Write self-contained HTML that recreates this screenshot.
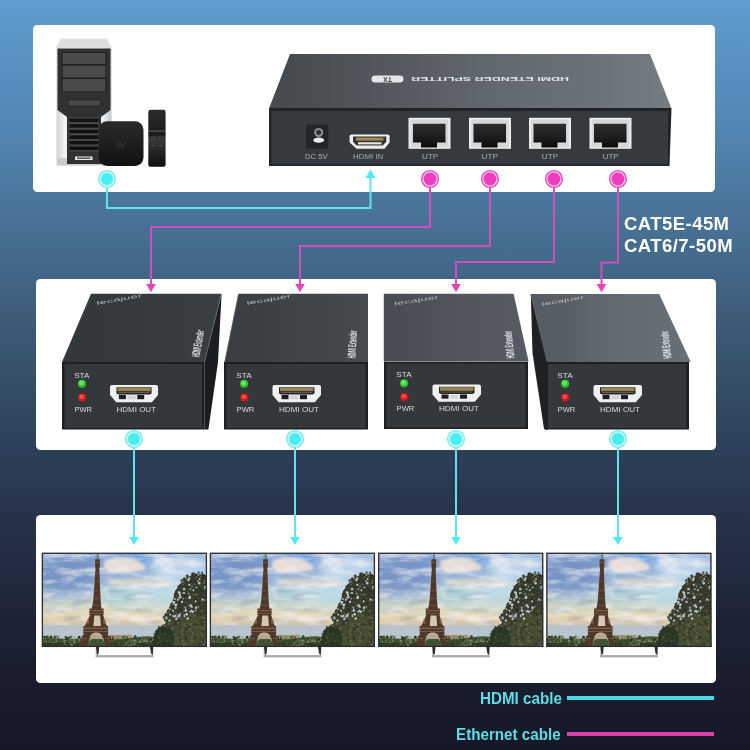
<!DOCTYPE html>
<html><head><meta charset="utf-8">
<style>
html,body{margin:0;padding:0;}
body{width:750px;height:750px;overflow:hidden;position:relative;font-family:"Liberation Sans",sans-serif;
background:linear-gradient(180deg,#5e9ccf 0px,#568bba 100px,#4a779c 200px,#37506b 370px,#27364d 500px,#1d2335 620px,#151826 745px);}
.panel{position:absolute;background:#fff;border-radius:4.5px;}
#p1{left:33px;top:25px;width:682px;height:167px;}
#p2{left:36px;top:279px;width:680px;height:171px;}
#p3{left:36px;top:515px;width:680px;height:167.5px;}
svg{position:absolute;left:0;top:0;will-change:transform;}
.txt{will-change:transform;}
.txt{position:absolute;font-weight:bold;white-space:nowrap;}
</style></head>
<body>
<div class="panel" id="p1"></div>
<div class="panel" id="p2"></div>
<div class="panel" id="p3"></div>
<svg width="750" height="750" viewBox="0 0 750 750" id="devices">
<defs>
<linearGradient id="rjG" x1="0" y1="0" x2="0" y2="1"><stop offset="0" stop-color="#2c2d2e"/><stop offset="0.5" stop-color="#1e1f20"/><stop offset="1" stop-color="#0c0c0d"/></linearGradient>
<linearGradient id="tsTop" gradientUnits="userSpaceOnUse" x1="269" y1="0" x2="671.5" y2="0">
<stop offset="0" stop-color="#44494d"/><stop offset="0.2" stop-color="#4d5357"/><stop offset="0.574" stop-color="#626970"/><stop offset="0.835" stop-color="#6c737a"/><stop offset="1" stop-color="#757d84"/>
</linearGradient>
</defs>
<g id="pc">
<defs>
<linearGradient id="pcSide" x1="0" y1="0" x2="1" y2="0">
<stop offset="0" stop-color="#cfd2d5"/><stop offset="0.15" stop-color="#f2f3f4"/><stop offset="0.85" stop-color="#eceeef"/><stop offset="1" stop-color="#c4c7ca"/>
</linearGradient>
<linearGradient id="atv" x1="0" y1="0" x2="0" y2="1">
<stop offset="0" stop-color="#2a2a2c"/><stop offset="1" stop-color="#111113"/>
</linearGradient>
<linearGradient id="rem" x1="0" y1="0" x2="0" y2="1">
<stop offset="0" stop-color="#2c2c2e"/><stop offset="0.45" stop-color="#1a1a1b"/><stop offset="0.5" stop-color="#3a3a3c"/><stop offset="1" stop-color="#0e0e0f"/>
</linearGradient>
</defs>
<!-- tower body -->
<path d="M56.5,47.6 H111.5 V165.5 H56.5 Z" fill="url(#pcSide)"/>
<path d="M60.7,38.7 H106.9 L111.6,47.8 H56 Z" fill="#dcdedf"/>
<path d="M57,158 H112 V165.5 H57 Z" fill="#c9cccf"/>
<!-- black front -->
<path d="M57.5,48.5 H110.5 V110 L101,117 V164 H67 V117 L57.5,110 Z" fill="#303133"/>
<rect x="61.5" y="52" width="45" height="40.5" fill="#1c1d1f"/>
<rect x="62.5" y="53" width="43" height="11" fill="#4a4b4d"/>
<rect x="62.5" y="65.5" width="43" height="12" fill="#4a4b4d"/>
<rect x="62.5" y="79" width="43" height="12.5" fill="#4a4b4d"/>
<path d="M61.5,92.5 H106.5 L104,99 H64 Z" fill="#303133"/>
<rect x="68" y="100" width="32.5" height="6" fill="#4a4b4d" stroke="#1e1f21" stroke-width="0.8"/>
<rect x="69" y="117.5" width="30" height="34" fill="#4a4b4d"/>
<g fill="#111112">
<rect x="69.5" y="118.5" width="29" height="3.6"/>
<rect x="69.5" y="124.1" width="29" height="3.6"/>
<rect x="69.5" y="129.7" width="29" height="3.6"/>
<rect x="69.5" y="135.3" width="29" height="3.6"/>
<rect x="69.5" y="140.9" width="29" height="3.6"/>
<rect x="69.5" y="146.5" width="29" height="3.6"/>
</g>
<rect x="75" y="156.5" width="17.5" height="3.5" fill="#e8e8e8"/>
<rect x="77" y="157.5" width="13.5" height="1.5" fill="#555"/>
<!-- apple tv -->
<rect x="98.7" y="121.3" width="44.8" height="44.8" rx="8.5" fill="url(#atv)"/>
<text x="121" y="148" font-family="Liberation Sans" font-size="11" fill="#3a3a3c" text-anchor="middle">tv</text>
<!-- remote -->
<rect x="148.3" y="109.8" width="17.3" height="56.9" rx="2.2" fill="url(#rem)"/>
<rect x="149" y="130.5" width="16" height="1.2" fill="#5a5a5c"/>
<circle cx="153.2" cy="137.5" r="2" fill="#4a4a4c"/><circle cx="160.9" cy="137.5" r="2" fill="#4a4a4c"/>
<circle cx="153.2" cy="137.5" r="1" fill="#222"/><circle cx="160.9" cy="137.5" r="1" fill="#222"/>
<rect x="151.8" y="145" width="2.6" height="1.2" fill="#555"/><rect x="159.6" y="145" width="2.6" height="1.2" fill="#555"/>
</g>
<g id="splitter">
<path d="M290,54 L650,54 L671.5,108.5 L269,108.5 Z" fill="url(#tsTop)"/>
<path d="M269,108 H671.5 L669.5,166 H269 Z" fill="#202427"/>
<rect x="271.5" y="111" width="396.5" height="53.5" fill="#363a3d"/>
<!-- top text -->
<rect x="371.5" y="75.5" width="32" height="7" rx="3.5" fill="#e4e6e8"/>
<text x="387.5" y="81.3" transform="rotate(180 387.5 79)" font-size="7" font-weight="bold" fill="#3c4246" text-anchor="middle" font-family="Liberation Sans">TX</text>
<text x="411" y="81.5" transform="rotate(180 490 79)" font-size="6.2" font-weight="bold" fill="#e4e6e8" textLength="158" lengthAdjust="spacingAndGlyphs" font-family="Liberation Sans">HDMI ETENDER SPLITTER</text>
<!-- DC jack -->
<rect x="306" y="124.7" width="22.3" height="24" fill="#232629"/>
<circle cx="318.7" cy="132.5" r="4.6" fill="#8a8e91"/><circle cx="318.7" cy="132.5" r="2.4" fill="#2a2c2e"/>
<ellipse cx="318.7" cy="140.2" rx="5.3" ry="2.6" fill="#ececec"/>
<!-- HDMI IN -->
<path d="M351.5,134.4 H387.7 Q389.6,134.4 389.6,136.3 V142.5 L384.5,148.7 H356.7 L349.6,142.5 V136.3 Q349.6,134.4 351.5,134.4 Z" fill="#eeeeee"/>
<path d="M353,136.6 H386.3 V141.8 L382.7,145.5 H356.6 L353,141.8 Z" fill="#333"/>
<rect x="356" y="137.6" width="27.5" height="3" fill="#a88c55"/>
<rect x="358" y="142.2" width="23.5" height="2.2" fill="#e0e0e0"/>
<g font-family="Liberation Sans" font-size="6.5" fill="#a9adb0">
<text x="305" y="158.9" textLength="22.7" lengthAdjust="spacingAndGlyphs">DC 5V</text>
<text x="353" y="158.9" textLength="30.3" lengthAdjust="spacingAndGlyphs">HDMI IN</text>
<text x="422" y="158.9" textLength="16.3" lengthAdjust="spacingAndGlyphs">UTP</text>
<text x="481.6" y="158.9" textLength="16.3" lengthAdjust="spacingAndGlyphs">UTP</text>
<text x="541.8" y="158.9" textLength="16.3" lengthAdjust="spacingAndGlyphs">UTP</text>
<text x="602.5" y="158.9" textLength="16.3" lengthAdjust="spacingAndGlyphs">UTP</text>
</g>
<g id="rj">
<rect x="408.5" y="117.8" width="42" height="31" fill="#ececec"/>
<rect x="410.5" y="119.5" width="38" height="28" fill="#d6d7d8"/>
<path d="M413,123.8 H445.5 V142.5 H437 V147.4 H421 V142.5 H413 Z" fill="url(#rjG)"/>
</g>
<use href="#rj" x="60.5"/>
<use href="#rj" x="120.5"/>
<use href="#rj" x="181"/>
</g>
<g id="receivers">
<defs>
<linearGradient id="rTop" gradientUnits="userSpaceOnUse" x1="60" y1="0" x2="690" y2="0">
<stop offset="0" stop-color="#33383b"/><stop offset="0.087" stop-color="#34393c"/><stop offset="0.31" stop-color="#3c4044"/><stop offset="0.39" stop-color="#404548"/><stop offset="0.571" stop-color="#4a5055"/><stop offset="0.635" stop-color="#51575d"/><stop offset="0.8" stop-color="#585e66"/><stop offset="0.88" stop-color="#626b71"/><stop offset="1" stop-color="#687077"/>
</linearGradient>
<g id="front">
<rect x="0" y="0" width="144" height="67.5" fill="#1d2023"/>
<rect x="2.5" y="2" width="139" height="64" fill="#34383b"/>
<g font-family="Liberation Sans" font-size="7.4" fill="#dcdcdc">
<text x="12.3" y="15.7" textLength="15.4" lengthAdjust="spacingAndGlyphs">STA</text>
<text x="12.6" y="49.9" textLength="17.7" lengthAdjust="spacingAndGlyphs">PWR</text>
<text x="55" y="49.9" textLength="40" lengthAdjust="spacingAndGlyphs">HDMI OUT</text>
</g>
<circle cx="20.1" cy="21.7" r="4" fill="#2fc42f"/><circle cx="19.6" cy="21" r="2.4" fill="#5ef05e"/>
<circle cx="20.3" cy="35.4" r="4" fill="#d81818"/><circle cx="19.8" cy="34.8" r="2.4" fill="#ff4a4a"/>
<path d="M50.3,23 H95.2 Q97,23 97,25 V33 L90.8,40.3 H54.7 L48.5,33 V25 Q48.5,23 50.3,23 Z" fill="#f0f0f0"/>
<path d="M55,25.2 H90.5 V31.6 L88.5,32.6 H57 L55,31.6 Z" fill="#262626"/>
<rect x="56" y="25.7" width="33.5" height="3.5" fill="#9a8552"/>
<rect x="57" y="30.1" width="31.5" height="0.8" fill="#6c6c6c"/>
<rect x="57.5" y="33" width="7" height="4.2" fill="#1e1e1e"/><rect x="76" y="33" width="7" height="4.2" fill="#1e1e1e"/>
<rect x="66" y="33.6" width="8.5" height="3.6" fill="#d2d2d2"/>
</g>
</defs>
<!-- R1 -->
<path d="M221.6,293.7 L218,362 L208.4,429.6 L204.5,429.6 L204.5,362 Z" fill="#1b1e21"/>
<path d="M91,293.7 L221.3,293.7 L204.5,362 L62,362 Z" fill="url(#rTop)"/>
<path d="M221.3,293.7 L204.5,362" stroke="#5a5f63" stroke-width="0.8"/>
<use href="#front" x="62" y="362" transform="translate(62,362) scale(0.99,1) translate(-62,-362)"/>
<!-- R2 -->
<path d="M238.5,293.7 L368,293.7 L368,362 L224.6,362 Z" fill="url(#rTop)"/>
<path d="M238.5,294 L224.8,362" stroke="#5c6165" stroke-width="0.7"/>
<use href="#front" x="224" y="362"/>
<!-- R3 -->
<path d="M383.8,293.7 L513.6,293.7 L528.5,361 L383.8,361 Z" fill="url(#rTop)"/>
<use href="#front" x="384" y="361.5"/>
<!-- R4 -->
<path d="M530.8,294 L532.5,353 L544,429 L547.5,429 L547.5,362 Z" fill="#1f2225"/>
<path d="M530.8,294 L659.2,294 L690.7,362 L547.2,362 Z" fill="url(#rTop)"/>
<path d="M530.8,294 L547.2,362" stroke="#5a5f63" stroke-width="0.8"/>
<use href="#front" x="545" y="362"/>
<rect x="545" y="362" width="3" height="67.5" fill="#1d2023"/>
<!-- brand + vertical text -->
<g font-family="Liberation Sans" fill="#b4b8bb">
<text x="0" y="0" font-size="5.2" transform="translate(97,305) rotate(-10)" textLength="46" lengthAdjust="spacingAndGlyphs">lecajuer</text>
<text x="0" y="0" font-size="5.2" transform="translate(247,305) rotate(-10)" textLength="45" lengthAdjust="spacingAndGlyphs">lecajuer</text>
<text x="0" y="0" font-size="5.2" transform="translate(394.5,305.5) rotate(-9)" textLength="45" lengthAdjust="spacingAndGlyphs">lecajuer</text>
<text x="0" y="0" font-size="5.2" transform="translate(542,306) rotate(-10)" textLength="43" lengthAdjust="spacingAndGlyphs">lecajuer</text>
</g>
<g font-family="Liberation Sans" font-weight="bold" fill="#e6e8ea">
<text x="0" y="0" font-size="11.5" transform="translate(199.5,357.5) rotate(-80)" textLength="27" lengthAdjust="spacingAndGlyphs">HDMI Extender</text>
<text x="0" y="0" font-size="11.5" transform="translate(355.5,358.5) rotate(-87)" textLength="28" lengthAdjust="spacingAndGlyphs">HDMI Extender</text>
<text x="0" y="0" font-size="11.5" transform="translate(514.5,358) rotate(-96)" textLength="27.5" lengthAdjust="spacingAndGlyphs">HDMI Extender</text>
<text x="0" y="0" font-size="11.5" transform="translate(671.5,358) rotate(-97)" textLength="27.5" lengthAdjust="spacingAndGlyphs">HDMI Extender</text>
</g>
</g>
<g id="tvs">
<defs>
<linearGradient id="sky" x1="0" y1="0" x2="0" y2="1">
<stop offset="0" stop-color="#80a0d2"/>
<stop offset="0.2" stop-color="#8eaad2"/>
<stop offset="0.42" stop-color="#b0cad8"/>
<stop offset="0.56" stop-color="#d2d8c6"/>
<stop offset="0.67" stop-color="#e2d6b2"/>
<stop offset="0.74" stop-color="#dac8a8"/>
<stop offset="0.785" stop-color="#b8c2ca"/>
<stop offset="0.9" stop-color="#bcc6ce"/>
<stop offset="1" stop-color="#bcc6ce"/>
</linearGradient>
<linearGradient id="standG" x1="0" y1="0" x2="0" y2="1">
<stop offset="0" stop-color="#e6e6e6"/><stop offset="1" stop-color="#9a9a9a"/>
</linearGradient>
<filter id="blur1" x="-20%" y="-20%" width="140%" height="140%"><feGaussianBlur stdDeviation="1.6"/></filter>
<filter id="blur6" x="-50%" y="-50%" width="200%" height="200%"><feGaussianBlur stdDeviation="7"/></filter>
<filter id="blur03" x="-20%" y="-20%" width="140%" height="140%"><feGaussianBlur stdDeviation="0.35"/></filter>
<filter id="cloudtex" x="0" y="0" width="165" height="94" filterUnits="userSpaceOnUse">
<feTurbulence type="fractalNoise" baseFrequency="0.045 0.13" numOctaves="4" seed="5" result="n"/>
<feColorMatrix in="n" type="matrix" values="0 0 0 0 0.96  0 0 0 0 0.93  0 0 0 0 0.92  2.6 0 0 0 -1.05" result="c"/>
<feComposite in="c" in2="SourceGraphic" operator="in"/>
</filter>
<filter id="darktex" x="0" y="0" width="165" height="94" filterUnits="userSpaceOnUse">
<feTurbulence type="fractalNoise" baseFrequency="0.035 0.2" numOctaves="3" seed="12" result="n"/>
<feColorMatrix in="n" type="matrix" values="0 0 0 0 0.42  0 0 0 0 0.48  0 0 0 0 0.6  3 0 0 0 -1.75" result="c"/>
<feComposite in="c" in2="SourceGraphic" operator="in"/>
</filter>
<filter id="blur05" x="-20%" y="-20%" width="140%" height="140%"><feGaussianBlur stdDeviation="0.6"/></filter>
<symbol id="photo" viewBox="0 0 165 94" preserveAspectRatio="none">
<rect x="0" y="0" width="165" height="94" fill="url(#sky)"/>
<g filter="url(#blur6)">
<ellipse cx="24" cy="22" rx="34" ry="22" fill="#7692c4" opacity="0.9"/>
<ellipse cx="140" cy="16" rx="34" ry="18" fill="#b8d0ea"/>
<ellipse cx="95" cy="5" rx="16" ry="4" fill="#5ea8ec"/>
<ellipse cx="125" cy="40" rx="26" ry="12" fill="#bcdce6"/>
<ellipse cx="80" cy="42" rx="22" ry="8" fill="#b4d4dc"/>
</g>
<g filter="url(#blur1)">
<path d="M62,10 Q68,4 78,6 Q86,3 94,8 Q102,10 104,16 Q98,20 88,18 Q76,22 66,18 Q60,15 62,10 Z" fill="#e8dcd8"/>
<path d="M68,28 Q85,24 105,27 Q125,26 138,30 Q128,34 108,33 Q88,35 70,32 Z" fill="#ddd6cc" opacity="0.8"/>
<path d="M112,8 Q122,4 134,7 Q146,6 156,10 Q150,14 136,13 Q122,15 112,12 Z" fill="#d4e0ea" opacity="0.8"/>
<path d="M78,62 Q96,58 116,61 Q126,63 128,66 Q108,69 90,67 Q78,66 78,62 Z" fill="#e4d6bc"/>
</g>
<g fill="#75859e" opacity="0.55" filter="url(#blur1)">
<ellipse cx="6" cy="46" rx="9" ry="1.6"/>
<ellipse cx="40" cy="49" rx="10" ry="1.4"/>
<ellipse cx="12" cy="58" rx="12" ry="1.6"/>
<ellipse cx="32" cy="65.5" rx="11" ry="1.2"/>
<ellipse cx="88" cy="44" rx="8" ry="1"/>
<ellipse cx="100" cy="57" rx="10" ry="1"/>
<ellipse cx="75" cy="38" rx="8" ry="1"/>
<ellipse cx="110" cy="68" rx="8" ry="0.9"/>
</g>
<rect x="0" y="0" width="165" height="72" fill="#fff" filter="url(#cloudtex)" opacity="0.6"/>
<rect x="0" y="30" width="165" height="40" fill="#fff" filter="url(#darktex)" opacity="0.6"/>
<!-- haze -->
<g filter="url(#blur05)">
<rect x="66" y="82" width="24" height="5" fill="#a89078"/>
<rect x="4" y="84" width="8" height="4" fill="#9a8468"/>
<path d="M0,86 Q8,84.5 18,85.5 T40,85 T62,85.5 T90,85 T115,84.5 L165,84 V94 H0 Z" fill="#3a4f30"/>
<path d="M0,90 H165 V94 H0 Z" fill="#2c3c25"/>
</g>
<g id="treeline" filter="url(#blur03)"><circle cx="28.6" cy="89.2" r="1.3" fill="#6a7a58"/><circle cx="56.9" cy="89.6" r="1.3" fill="#2c3c24"/><circle cx="56.3" cy="89.3" r="1.4" fill="#5a7048"/><circle cx="56.4" cy="92.3" r="0.9" fill="#263420"/><circle cx="103.3" cy="85.9" r="1.3" fill="#4e6440"/><circle cx="62.8" cy="91.3" r="0.6" fill="#3a4e30"/><circle cx="114.9" cy="83.9" r="1.2" fill="#2c3c24"/><circle cx="32.3" cy="89.7" r="1.1" fill="#8a8068"/><circle cx="110.5" cy="87.6" r="1.4" fill="#263420"/><circle cx="16.1" cy="87.3" r="0.6" fill="#2c3c24"/><circle cx="26.0" cy="93.6" r="1.2" fill="#8a8068"/><circle cx="102.6" cy="87.9" r="1.0" fill="#8a8068"/><circle cx="64.1" cy="87.8" r="1.3" fill="#5a7048"/><circle cx="81.8" cy="93.3" r="1.4" fill="#34442a"/><circle cx="80.6" cy="85.2" r="1.4" fill="#6a7a58"/><circle cx="108.6" cy="89.5" r="1.1" fill="#5a7048"/><circle cx="118.6" cy="86.3" r="0.6" fill="#3a4e30"/><circle cx="102.5" cy="93.9" r="0.8" fill="#3a4e30"/><circle cx="8.0" cy="92.9" r="0.8" fill="#2c3c24"/><circle cx="92.3" cy="92.7" r="1.0" fill="#2c3c24"/><circle cx="91.4" cy="87.5" r="1.0" fill="#6a7a58"/><circle cx="110.6" cy="86.4" r="1.4" fill="#5a7048"/><circle cx="37.2" cy="84.3" r="1.4" fill="#2c3c24"/><circle cx="116.6" cy="86.6" r="0.6" fill="#34442a"/><circle cx="5.1" cy="92.6" r="0.8" fill="#6a7a58"/><circle cx="16.6" cy="92.5" r="0.9" fill="#8a8068"/><circle cx="62.4" cy="90.3" r="1.1" fill="#3a4e30"/><circle cx="112.9" cy="88.8" r="1.1" fill="#8a8068"/><circle cx="85.9" cy="93.3" r="1.4" fill="#8a8068"/><circle cx="62.5" cy="89.3" r="1.2" fill="#2c3c24"/><circle cx="118.5" cy="86.8" r="1.1" fill="#8a8068"/><circle cx="75.9" cy="84.1" r="0.9" fill="#6a7a58"/><circle cx="81.5" cy="87.2" r="1.2" fill="#34442a"/><circle cx="2.7" cy="84.1" r="1.4" fill="#2c3c24"/><circle cx="30.1" cy="88.3" r="0.7" fill="#6a7a58"/><circle cx="22.2" cy="91.5" r="0.8" fill="#34442a"/><circle cx="45.3" cy="91.6" r="1.4" fill="#2c3c24"/><circle cx="82.0" cy="84.9" r="1.1" fill="#5a7048"/><circle cx="32.3" cy="86.9" r="1.1" fill="#8a8068"/><circle cx="11.6" cy="89.8" r="1.1" fill="#6a7a58"/><circle cx="26.9" cy="92.0" r="0.6" fill="#4e6440"/><circle cx="89.0" cy="85.8" r="0.7" fill="#263420"/><circle cx="94.4" cy="83.9" r="0.8" fill="#5a7048"/><circle cx="100.3" cy="89.5" r="0.8" fill="#34442a"/><circle cx="99.4" cy="84.4" r="1.0" fill="#6a7a58"/><circle cx="50.6" cy="88.9" r="0.9" fill="#34442a"/><circle cx="76.1" cy="86.5" r="0.5" fill="#8a8068"/><circle cx="49.6" cy="85.6" r="1.3" fill="#263420"/><circle cx="105.6" cy="93.9" r="1.0" fill="#8a8068"/><circle cx="118.3" cy="91.0" r="1.2" fill="#2c3c24"/><circle cx="100.4" cy="90.5" r="1.0" fill="#34442a"/><circle cx="106.8" cy="92.5" r="0.6" fill="#34442a"/><circle cx="29.3" cy="83.9" r="1.3" fill="#5a7048"/><circle cx="108.0" cy="89.6" r="0.9" fill="#2c3c24"/><circle cx="14.5" cy="88.8" r="1.1" fill="#5a7048"/><circle cx="63.0" cy="87.8" r="0.8" fill="#3a4e30"/><circle cx="30.3" cy="92.5" r="1.2" fill="#263420"/><circle cx="7.4" cy="85.8" r="1.0" fill="#3a4e30"/><circle cx="98.0" cy="85.3" r="1.3" fill="#34442a"/><circle cx="96.7" cy="92.1" r="0.9" fill="#2c3c24"/><circle cx="68.5" cy="87.7" r="0.7" fill="#34442a"/><circle cx="74.2" cy="89.0" r="0.9" fill="#2c3c24"/><circle cx="93.2" cy="83.5" r="1.2" fill="#2c3c24"/><circle cx="5.5" cy="84.0" r="1.4" fill="#263420"/><circle cx="102.5" cy="84.4" r="0.8" fill="#263420"/><circle cx="37.7" cy="87.2" r="1.0" fill="#8a8068"/><circle cx="43.3" cy="85.5" r="0.9" fill="#6a7a58"/><circle cx="15.3" cy="83.5" r="1.2" fill="#8a8068"/><circle cx="68.0" cy="84.0" r="1.0" fill="#263420"/><circle cx="93.9" cy="87.5" r="1.1" fill="#2c3c24"/><circle cx="51.8" cy="87.4" r="1.2" fill="#263420"/><circle cx="37.8" cy="93.5" r="0.9" fill="#8a8068"/><circle cx="29.4" cy="89.1" r="1.2" fill="#3a4e30"/><circle cx="26.9" cy="84.9" r="1.3" fill="#2c3c24"/><circle cx="44.9" cy="92.9" r="0.6" fill="#34442a"/><circle cx="82.9" cy="93.4" r="1.1" fill="#8a8068"/><circle cx="88.0" cy="89.4" r="1.2" fill="#3a4e30"/><circle cx="86.0" cy="88.5" r="1.2" fill="#5a7048"/><circle cx="5.3" cy="84.5" r="1.1" fill="#3a4e30"/><circle cx="45.1" cy="92.1" r="1.3" fill="#6a7a58"/><circle cx="14.6" cy="92.4" r="1.3" fill="#263420"/><circle cx="114.3" cy="89.6" r="0.5" fill="#3a4e30"/><circle cx="92.1" cy="88.9" r="0.6" fill="#5a7048"/><circle cx="89.9" cy="93.3" r="1.0" fill="#2c3c24"/><circle cx="104.3" cy="85.4" r="0.7" fill="#3a4e30"/><circle cx="21.6" cy="86.1" r="0.7" fill="#8a8068"/><circle cx="71.9" cy="93.4" r="1.4" fill="#8a8068"/><circle cx="45.0" cy="86.0" r="1.3" fill="#8a8068"/><circle cx="116.1" cy="87.9" r="0.6" fill="#263420"/><circle cx="48.1" cy="92.8" r="0.6" fill="#4e6440"/><circle cx="89.8" cy="93.1" r="1.0" fill="#263420"/><circle cx="103.0" cy="84.9" r="0.6" fill="#5a7048"/><circle cx="61.9" cy="93.3" r="1.1" fill="#34442a"/><circle cx="102.6" cy="89.7" r="1.3" fill="#34442a"/><circle cx="36.9" cy="86.3" r="0.7" fill="#8a8068"/><circle cx="68.4" cy="86.0" r="1.2" fill="#263420"/><circle cx="17.2" cy="93.9" r="1.1" fill="#263420"/><circle cx="24.7" cy="89.6" r="0.9" fill="#2c3c24"/><circle cx="86.5" cy="92.5" r="1.2" fill="#8a8068"/><circle cx="105.8" cy="84.0" r="1.3" fill="#5a7048"/><circle cx="77.8" cy="91.7" r="1.4" fill="#3a4e30"/><circle cx="102.5" cy="86.0" r="1.2" fill="#5a7048"/><circle cx="16.5" cy="90.0" r="1.3" fill="#2c3c24"/><circle cx="30.6" cy="92.6" r="0.7" fill="#6a7a58"/><circle cx="10.9" cy="91.9" r="0.6" fill="#3a4e30"/><circle cx="100.1" cy="86.6" r="0.9" fill="#6a7a58"/><circle cx="88.1" cy="87.0" r="0.8" fill="#2c3c24"/><circle cx="52.3" cy="88.6" r="1.1" fill="#5a7048"/><circle cx="89.1" cy="88.6" r="1.0" fill="#4e6440"/><circle cx="14.3" cy="86.4" r="0.6" fill="#8a8068"/><circle cx="106.5" cy="93.0" r="1.0" fill="#3a4e30"/><circle cx="84.1" cy="90.6" r="1.2" fill="#6a7a58"/><circle cx="35.5" cy="90.6" r="0.6" fill="#34442a"/><circle cx="113.3" cy="87.1" r="1.1" fill="#3a4e30"/><circle cx="61.0" cy="84.1" r="1.1" fill="#34442a"/><circle cx="68.0" cy="85.4" r="0.7" fill="#4e6440"/><circle cx="106.8" cy="90.4" r="0.6" fill="#3a4e30"/><circle cx="67.2" cy="93.2" r="1.0" fill="#8a8068"/><circle cx="77.7" cy="88.3" r="1.2" fill="#34442a"/><circle cx="84.7" cy="84.6" r="1.2" fill="#4e6440"/><circle cx="65.2" cy="91.3" r="0.6" fill="#6a7a58"/><circle cx="32.5" cy="84.1" r="0.5" fill="#4e6440"/><circle cx="60.6" cy="86.1" r="1.3" fill="#6a7a58"/><circle cx="113.4" cy="88.2" r="0.8" fill="#3a4e30"/><circle cx="101.6" cy="84.7" r="1.0" fill="#34442a"/><circle cx="81.8" cy="89.4" r="0.7" fill="#3a4e30"/><circle cx="22.7" cy="87.9" r="1.2" fill="#8a8068"/><circle cx="89.8" cy="89.7" r="1.3" fill="#4e6440"/><circle cx="95.8" cy="89.2" r="1.0" fill="#4e6440"/><circle cx="24.2" cy="86.1" r="0.5" fill="#34442a"/><circle cx="96.4" cy="92.9" r="0.8" fill="#8a8068"/><circle cx="108.7" cy="86.8" r="1.4" fill="#263420"/><circle cx="82.4" cy="86.6" r="0.5" fill="#263420"/><circle cx="22.9" cy="90.2" r="1.2" fill="#3a4e30"/><circle cx="79.4" cy="88.7" r="0.7" fill="#263420"/><circle cx="93.9" cy="85.7" r="0.6" fill="#263420"/><circle cx="34.0" cy="90.4" r="0.6" fill="#4e6440"/><circle cx="95.1" cy="90.0" r="0.5" fill="#2c3c24"/><circle cx="74.2" cy="88.8" r="1.0" fill="#263420"/><circle cx="111.6" cy="86.9" r="1.1" fill="#6a7a58"/><circle cx="16.1" cy="92.5" r="1.1" fill="#2c3c24"/><circle cx="88.8" cy="87.1" r="1.3" fill="#5a7048"/><circle cx="103.4" cy="88.1" r="0.9" fill="#5a7048"/><circle cx="13.1" cy="83.9" r="1.3" fill="#3a4e30"/><circle cx="84.7" cy="87.6" r="1.1" fill="#263420"/><circle cx="64.5" cy="87.9" r="0.8" fill="#263420"/><circle cx="55.7" cy="91.4" r="0.9" fill="#8a8068"/><circle cx="54.6" cy="83.9" r="0.8" fill="#34442a"/><circle cx="44.5" cy="89.1" r="0.7" fill="#8a8068"/><circle cx="0.3" cy="85.7" r="0.6" fill="#6a7a58"/><circle cx="55.2" cy="85.6" r="0.5" fill="#5a7048"/><circle cx="70.1" cy="88.8" r="0.6" fill="#2c3c24"/><circle cx="73.0" cy="88.1" r="0.6" fill="#4e6440"/><circle cx="2.7" cy="88.2" r="0.5" fill="#8a8068"/><circle cx="85.7" cy="86.0" r="0.9" fill="#2c3c24"/><circle cx="3.2" cy="93.6" r="0.7" fill="#5a7048"/><circle cx="46.7" cy="85.5" r="1.1" fill="#6a7a58"/><circle cx="41.6" cy="84.8" r="1.2" fill="#2c3c24"/><circle cx="34.9" cy="93.8" r="1.2" fill="#263420"/><circle cx="115.4" cy="88.6" r="0.5" fill="#34442a"/><circle cx="40.4" cy="93.9" r="0.6" fill="#6a7a58"/><circle cx="81.9" cy="93.7" r="0.6" fill="#2c3c24"/><circle cx="81.7" cy="83.7" r="0.9" fill="#2c3c24"/><circle cx="22.7" cy="88.9" r="0.7" fill="#6a7a58"/><circle cx="116.9" cy="88.5" r="1.3" fill="#263420"/><circle cx="112.8" cy="83.9" r="1.2" fill="#34442a"/><circle cx="75.8" cy="87.6" r="0.7" fill="#34442a"/><circle cx="49.6" cy="88.8" r="1.0" fill="#6a7a58"/><circle cx="93.4" cy="87.7" r="1.3" fill="#8a8068"/><circle cx="66.4" cy="93.2" r="1.2" fill="#6a7a58"/><circle cx="52.6" cy="88.2" r="0.8" fill="#263420"/><circle cx="98.5" cy="88.8" r="1.4" fill="#8a8068"/><circle cx="5.1" cy="85.3" r="1.2" fill="#2c3c24"/><circle cx="11.0" cy="90.8" r="0.8" fill="#3a4e30"/><circle cx="72.1" cy="91.9" r="1.3" fill="#2c3c24"/><circle cx="104.7" cy="88.2" r="1.4" fill="#6a7a58"/><circle cx="0.2" cy="85.5" r="0.8" fill="#3a4e30"/><circle cx="37.4" cy="88.2" r="0.7" fill="#5a7048"/><circle cx="5.9" cy="85.1" r="1.0" fill="#4e6440"/><circle cx="1.4" cy="85.9" r="0.7" fill="#5a7048"/><circle cx="67.5" cy="87.9" r="1.2" fill="#6a7a58"/><circle cx="64.2" cy="85.5" r="1.1" fill="#4e6440"/><circle cx="5.0" cy="92.0" r="1.3" fill="#2c3c24"/><circle cx="12.2" cy="93.4" r="0.6" fill="#34442a"/><circle cx="55.8" cy="85.8" r="1.1" fill="#3a4e30"/><circle cx="91.4" cy="92.7" r="0.9" fill="#6a7a58"/><circle cx="79.3" cy="91.7" r="1.3" fill="#34442a"/><circle cx="71.3" cy="92.1" r="0.6" fill="#5a7048"/><circle cx="0.9" cy="86.6" r="0.8" fill="#3a4e30"/><circle cx="23.0" cy="91.4" r="0.9" fill="#6a7a58"/><circle cx="77.8" cy="89.9" r="0.7" fill="#5a7048"/><circle cx="100.6" cy="84.2" r="0.9" fill="#5a7048"/><circle cx="10.1" cy="85.8" r="1.2" fill="#4e6440"/><circle cx="24.8" cy="85.8" r="1.3" fill="#263420"/><circle cx="64.3" cy="87.9" r="1.3" fill="#5a7048"/><circle cx="114.0" cy="88.6" r="0.9" fill="#8a8068"/><circle cx="70.5" cy="83.9" r="0.7" fill="#2c3c24"/><circle cx="11.5" cy="91.1" r="1.0" fill="#34442a"/><circle cx="7.4" cy="88.5" r="1.2" fill="#5a7048"/><circle cx="33.1" cy="88.0" r="0.9" fill="#6a7a58"/><circle cx="23.6" cy="91.7" r="0.6" fill="#4e6440"/><circle cx="35.9" cy="87.8" r="0.7" fill="#3a4e30"/><circle cx="58.5" cy="92.0" r="1.4" fill="#34442a"/><circle cx="117.6" cy="92.7" r="1.3" fill="#6a7a58"/><circle cx="51.8" cy="93.4" r="1.0" fill="#263420"/><circle cx="65.0" cy="87.3" r="0.8" fill="#34442a"/><circle cx="55.6" cy="92.8" r="1.2" fill="#34442a"/><circle cx="111.6" cy="89.0" r="0.6" fill="#2c3c24"/><circle cx="63.7" cy="89.1" r="1.4" fill="#4e6440"/><circle cx="0.2" cy="93.8" r="0.8" fill="#263420"/><circle cx="115.9" cy="87.3" r="0.9" fill="#2c3c24"/><circle cx="28.6" cy="86.4" r="1.3" fill="#6a7a58"/><circle cx="72.4" cy="92.0" r="0.8" fill="#263420"/><circle cx="29.7" cy="91.9" r="1.2" fill="#8a8068"/><circle cx="40.7" cy="83.8" r="1.1" fill="#2c3c24"/><circle cx="81.0" cy="93.1" r="1.4" fill="#5a7048"/><circle cx="89.2" cy="92.3" r="1.0" fill="#8a8068"/><circle cx="99.7" cy="89.3" r="0.5" fill="#34442a"/><circle cx="5.4" cy="88.6" r="1.3" fill="#2c3c24"/><circle cx="108.7" cy="88.4" r="0.8" fill="#8a8068"/><circle cx="75.9" cy="86.6" r="1.1" fill="#3a4e30"/><circle cx="119.1" cy="89.2" r="1.2" fill="#8a8068"/><circle cx="53.3" cy="86.4" r="0.9" fill="#34442a"/><circle cx="115.1" cy="85.1" r="0.6" fill="#6a7a58"/><circle cx="4.5" cy="88.6" r="1.2" fill="#5a7048"/><circle cx="111.8" cy="89.9" r="0.8" fill="#2c3c24"/><circle cx="71.7" cy="84.7" r="0.8" fill="#4e6440"/><circle cx="85.1" cy="93.1" r="0.9" fill="#3a4e30"/><circle cx="9.1" cy="83.9" r="1.3" fill="#263420"/><circle cx="115.2" cy="90.3" r="0.8" fill="#5a7048"/><circle cx="41.5" cy="90.4" r="0.8" fill="#8a8068"/><circle cx="32.5" cy="93.5" r="0.8" fill="#6a7a58"/><circle cx="47.1" cy="86.5" r="0.9" fill="#4e6440"/><circle cx="49.6" cy="92.9" r="0.7" fill="#263420"/><circle cx="24.0" cy="84.3" r="1.2" fill="#3a4e30"/><circle cx="100.6" cy="90.1" r="1.3" fill="#2c3c24"/><circle cx="116.9" cy="90.8" r="0.7" fill="#8a8068"/><circle cx="57.9" cy="86.3" r="0.7" fill="#2c3c24"/><circle cx="58.4" cy="85.3" r="1.3" fill="#4e6440"/><circle cx="21.3" cy="93.9" r="1.1" fill="#8a8068"/><circle cx="17.1" cy="84.1" r="0.8" fill="#4e6440"/><circle cx="77.8" cy="84.9" r="0.5" fill="#4e6440"/><circle cx="115.3" cy="89.1" r="1.2" fill="#8a8068"/><circle cx="52.0" cy="85.4" r="0.8" fill="#2c3c24"/><circle cx="15.8" cy="85.0" r="0.8" fill="#4e6440"/><circle cx="112.5" cy="89.8" r="0.5" fill="#5a7048"/><circle cx="44.5" cy="85.0" r="0.7" fill="#263420"/><circle cx="42.5" cy="93.5" r="0.6" fill="#263420"/><circle cx="101.6" cy="88.5" r="1.0" fill="#6a7a58"/><circle cx="102.5" cy="88.1" r="0.9" fill="#8a8068"/><circle cx="64.6" cy="88.1" r="1.2" fill="#263420"/><circle cx="24.1" cy="89.7" r="0.8" fill="#4e6440"/><circle cx="103.1" cy="93.6" r="0.7" fill="#6a7a58"/><circle cx="24.3" cy="84.1" r="0.9" fill="#2c3c24"/><circle cx="104.7" cy="84.7" r="0.6" fill="#2c3c24"/><circle cx="14.7" cy="87.7" r="1.0" fill="#6a7a58"/><circle cx="91.9" cy="84.5" r="0.8" fill="#263420"/><circle cx="70.9" cy="85.8" r="1.0" fill="#263420"/><circle cx="44.8" cy="86.8" r="1.1" fill="#6a7a58"/><circle cx="92.5" cy="91.1" r="1.3" fill="#6a7a58"/></g>

<!-- right tree -->
<g id="treeg" filter="url(#blur03)"><polygon points="152,21 158,20.5 165,23 165,94 111,94 113,80 116,75 122,72.5 124,69 121.5,66 126,58 130.5,50 132.5,41 136.5,33 142,27" fill="#373a2c"/><circle cx="153.5" cy="21.9" r="1.1" fill="#373a2c"/><circle cx="156.7" cy="19.9" r="1.2" fill="#373a2c"/><circle cx="160.2" cy="20.1" r="1.0" fill="#373a2c"/><circle cx="161.3" cy="21.9" r="0.7" fill="#373a2c"/><circle cx="166.1" cy="23.4" r="1.3" fill="#373a2c"/><circle cx="109.9" cy="93.7" r="0.8" fill="#373a2c"/><circle cx="110.8" cy="90.1" r="1.1" fill="#373a2c"/><circle cx="112.6" cy="88.4" r="1.3" fill="#373a2c"/><circle cx="112.6" cy="85.7" r="1.0" fill="#373a2c"/><circle cx="113.9" cy="83.2" r="1.3" fill="#373a2c"/><circle cx="112.1" cy="81.1" r="0.8" fill="#373a2c"/><circle cx="113.9" cy="78.9" r="1.0" fill="#373a2c"/><circle cx="116.8" cy="73.9" r="0.9" fill="#373a2c"/><circle cx="118.7" cy="75.0" r="1.1" fill="#373a2c"/><circle cx="119.5" cy="74.3" r="0.9" fill="#373a2c"/><circle cx="121.8" cy="73.3" r="1.4" fill="#373a2c"/><circle cx="123.1" cy="67.7" r="0.8" fill="#373a2c"/><circle cx="121.6" cy="64.5" r="1.1" fill="#373a2c"/><circle cx="123.4" cy="62.7" r="1.3" fill="#373a2c"/><circle cx="123.7" cy="61.1" r="0.9" fill="#373a2c"/><circle cx="126.7" cy="57.6" r="1.5" fill="#373a2c"/><circle cx="126.0" cy="58.4" r="1.3" fill="#373a2c"/><circle cx="128.4" cy="55.1" r="0.9" fill="#373a2c"/><circle cx="128.7" cy="52.0" r="0.8" fill="#373a2c"/><circle cx="129.7" cy="51.2" r="1.2" fill="#373a2c"/><circle cx="130.6" cy="50.3" r="1.1" fill="#373a2c"/><circle cx="132.2" cy="45.7" r="0.8" fill="#373a2c"/><circle cx="132.7" cy="42.9" r="0.9" fill="#373a2c"/><circle cx="133.4" cy="40.9" r="1.6" fill="#373a2c"/><circle cx="133.6" cy="39.0" r="0.8" fill="#373a2c"/><circle cx="134.6" cy="38.3" r="1.3" fill="#373a2c"/><circle cx="135.5" cy="36.7" r="1.0" fill="#373a2c"/><circle cx="136.2" cy="33.6" r="0.9" fill="#373a2c"/><circle cx="138.4" cy="32.2" r="1.0" fill="#373a2c"/><circle cx="139.3" cy="28.0" r="0.9" fill="#373a2c"/><circle cx="139.9" cy="27.3" r="1.0" fill="#373a2c"/><circle cx="142.3" cy="26.0" r="1.5" fill="#373a2c"/><circle cx="146.3" cy="25.1" r="1.2" fill="#373a2c"/><circle cx="145.2" cy="23.3" r="1.5" fill="#373a2c"/><circle cx="150.5" cy="21.4" r="1.3" fill="#373a2c"/><circle cx="151.5" cy="21.2" r="1.6" fill="#373a2c"/><path d="M165,62 Q150,58 140,64 Q132,70 128,76 Q122,84 120,94 H165 Z" fill="#474c34"/><circle cx="150.5" cy="86.5" r="1.3" fill="#5a6040"/><circle cx="160.3" cy="45.4" r="1.4" fill="#585a40"/><circle cx="157.9" cy="50.3" r="1.4" fill="#2b3226"/><circle cx="141.5" cy="65.9" r="0.9" fill="#3a3e2e"/><circle cx="128.2" cy="89.1" r="1.0" fill="#56603a"/><circle cx="156.1" cy="25.3" r="0.5" fill="#47483a"/><circle cx="143.1" cy="55.1" r="1.5" fill="#b8c4cc"/><circle cx="116.2" cy="77.5" r="0.8" fill="#56603a"/><circle cx="147.3" cy="34.2" r="1.1" fill="#4a4a36"/><circle cx="128.8" cy="88.8" r="1.4" fill="#56603a"/><circle cx="128.0" cy="68.9" r="1.2" fill="#3c4230"/><circle cx="154.2" cy="75.6" r="1.4" fill="#3c4230"/><circle cx="131.1" cy="62.7" r="0.8" fill="#a8b4bc"/><circle cx="159.3" cy="22.0" r="1.3" fill="#3d4230"/><circle cx="134.8" cy="39.6" r="1.2" fill="#2f362a"/><circle cx="131.0" cy="58.0" r="1.2" fill="#a8b4bc"/><circle cx="156.3" cy="65.9" r="0.7" fill="#60663f"/><circle cx="141.4" cy="42.2" r="0.5" fill="#595a44"/><circle cx="134.6" cy="66.2" r="1.5" fill="#a8b4bc"/><circle cx="147.6" cy="34.0" r="0.7" fill="#2b3226"/><circle cx="149.3" cy="75.6" r="0.8" fill="#525a38"/><circle cx="148.4" cy="58.0" r="1.0" fill="#4a4a36"/><circle cx="153.6" cy="87.0" r="1.0" fill="#4a5032"/><circle cx="159.1" cy="48.1" r="1.0" fill="#585a40"/><circle cx="144.4" cy="87.2" r="1.1" fill="#2e3424"/><circle cx="145.9" cy="56.7" r="1.0" fill="#a8b4bc"/><circle cx="145.8" cy="34.4" r="0.7" fill="#3d4230"/><circle cx="159.5" cy="92.5" r="1.1" fill="#34382a"/><circle cx="153.5" cy="43.0" r="0.8" fill="#2b3226"/><circle cx="140.3" cy="76.6" r="1.4" fill="#56603a"/><circle cx="122.0" cy="84.1" r="1.3" fill="#2e3424"/><circle cx="153.3" cy="29.5" r="1.3" fill="#4a4a36"/><circle cx="159.5" cy="57.9" r="1.5" fill="#585a40"/><circle cx="137.1" cy="90.2" r="1.3" fill="#4a5032"/><circle cx="134.2" cy="60.9" r="1.2" fill="#2b3226"/><circle cx="138.8" cy="82.3" r="0.9" fill="#34382a"/><circle cx="131.0" cy="82.4" r="0.9" fill="#3c4230"/><circle cx="160.5" cy="59.8" r="1.0" fill="#3d4230"/><circle cx="148.0" cy="23.9" r="0.9" fill="#47483a"/><circle cx="160.6" cy="79.0" r="0.8" fill="#2e3424"/><circle cx="133.9" cy="80.2" r="1.1" fill="#56603a"/><circle cx="148.6" cy="92.3" r="0.8" fill="#525a38"/><circle cx="144.1" cy="26.9" r="0.6" fill="#595a44"/><circle cx="138.1" cy="37.8" r="1.1" fill="#2f362a"/><circle cx="158.3" cy="20.7" r="1.2" fill="#98a8b0"/><circle cx="143.9" cy="59.4" r="1.2" fill="#2b3226"/><circle cx="139.1" cy="82.8" r="0.8" fill="#5a6040"/><circle cx="150.7" cy="79.8" r="0.9" fill="#5a6040"/><circle cx="127.3" cy="88.2" r="1.3" fill="#3c4230"/><circle cx="158.9" cy="28.9" r="0.7" fill="#3d4230"/><circle cx="115.3" cy="81.4" r="1.1" fill="#2e3424"/><circle cx="148.8" cy="34.0" r="0.6" fill="#2b3226"/><circle cx="141.3" cy="45.8" r="0.7" fill="#a8b4bc"/><circle cx="137.8" cy="75.9" r="1.3" fill="#3c4230"/><circle cx="151.9" cy="65.0" r="0.7" fill="#56603a"/><circle cx="156.2" cy="93.3" r="1.1" fill="#4a5032"/><circle cx="131.5" cy="51.0" r="1.0" fill="#a8b4bc"/><circle cx="148.6" cy="82.3" r="1.0" fill="#5a6040"/><circle cx="160.7" cy="64.4" r="1.1" fill="#4a5032"/><circle cx="154.1" cy="71.9" r="1.1" fill="#2e3424"/><circle cx="128.8" cy="76.2" r="1.4" fill="#34382a"/><circle cx="150.9" cy="77.3" r="0.7" fill="#2e3424"/><circle cx="128.1" cy="59.4" r="1.3" fill="#a8b4bc"/><circle cx="152.1" cy="49.4" r="0.7" fill="#4a4a36"/><circle cx="128.8" cy="54.2" r="1.4" fill="#2b3226"/><circle cx="164.5" cy="86.7" r="0.8" fill="#525a38"/><circle cx="162.0" cy="69.0" r="0.8" fill="#60663f"/><circle cx="137.4" cy="35.0" r="1.1" fill="#3d4230"/><circle cx="143.8" cy="74.4" r="1.0" fill="#34382a"/><circle cx="137.8" cy="76.1" r="0.6" fill="#2e3424"/><circle cx="128.7" cy="59.5" r="1.5" fill="#3a3e2e"/><circle cx="141.2" cy="93.6" r="1.3" fill="#56603a"/><circle cx="151.8" cy="22.4" r="0.8" fill="#4a4a36"/><circle cx="163.4" cy="83.2" r="1.0" fill="#525a38"/><circle cx="137.2" cy="40.3" r="1.0" fill="#98a8b0"/><circle cx="146.0" cy="61.0" r="1.2" fill="#34382a"/><circle cx="152.5" cy="62.9" r="1.0" fill="#5a6040"/><circle cx="142.0" cy="73.2" r="0.7" fill="#60663f"/><circle cx="159.8" cy="51.2" r="0.8" fill="#585a40"/><circle cx="151.6" cy="22.4" r="1.2" fill="#3d4230"/><circle cx="149.8" cy="54.1" r="1.1" fill="#b8c4cc"/><circle cx="146.7" cy="53.2" r="1.2" fill="#c8d0d6"/><circle cx="147.5" cy="46.3" r="1.3" fill="#2b3226"/><circle cx="137.7" cy="42.1" r="1.0" fill="#47483a"/><circle cx="147.7" cy="61.4" r="1.2" fill="#3c4230"/><circle cx="151.4" cy="33.2" r="0.9" fill="#2f362a"/><circle cx="145.9" cy="33.7" r="1.0" fill="#2b3226"/><circle cx="151.6" cy="87.5" r="1.1" fill="#5a6040"/><circle cx="144.7" cy="47.0" r="0.9" fill="#585a40"/><circle cx="128.6" cy="56.1" r="1.4" fill="#4a4a36"/><circle cx="154.5" cy="65.8" r="1.0" fill="#3c4230"/><circle cx="151.1" cy="48.3" r="0.9" fill="#4a4a36"/><circle cx="146.0" cy="93.2" r="0.9" fill="#60663f"/><circle cx="151.7" cy="81.0" r="1.0" fill="#5a6040"/><circle cx="158.1" cy="24.9" r="0.8" fill="#3d4230"/><circle cx="141.2" cy="80.1" r="0.9" fill="#56603a"/><circle cx="152.7" cy="24.7" r="1.2" fill="#2f362a"/><circle cx="143.2" cy="71.1" r="1.3" fill="#56603a"/><circle cx="148.2" cy="40.2" r="0.7" fill="#4a4a36"/><circle cx="146.1" cy="43.5" r="0.8" fill="#3d4230"/><circle cx="134.3" cy="63.6" r="1.0" fill="#c8d0d6"/><circle cx="154.2" cy="41.9" r="0.7" fill="#c6d0d4"/><circle cx="163.2" cy="73.7" r="0.7" fill="#3c4230"/><circle cx="155.6" cy="20.8" r="1.0" fill="#98a8b0"/><circle cx="153.8" cy="74.4" r="1.3" fill="#60663f"/><circle cx="139.7" cy="81.7" r="0.8" fill="#5a6040"/><circle cx="151.7" cy="85.1" r="1.3" fill="#34382a"/><circle cx="133.3" cy="62.6" r="1.3" fill="#c8d0d6"/><circle cx="150.5" cy="86.4" r="0.6" fill="#4a5032"/><circle cx="145.9" cy="26.3" r="0.7" fill="#98a8b0"/><circle cx="122.1" cy="76.4" r="1.3" fill="#60663f"/><circle cx="163.3" cy="69.4" r="1.0" fill="#56603a"/><circle cx="154.3" cy="24.4" r="1.2" fill="#595a44"/><circle cx="132.6" cy="81.0" r="1.4" fill="#60663f"/><circle cx="154.3" cy="81.5" r="1.5" fill="#56603a"/><circle cx="145.2" cy="58.3" r="1.3" fill="#2b3226"/><circle cx="133.2" cy="50.5" r="0.8" fill="#4a4a36"/><circle cx="147.6" cy="43.1" r="0.8" fill="#98a8b0"/><circle cx="126.1" cy="91.7" r="1.0" fill="#525a38"/><circle cx="150.2" cy="41.8" r="1.1" fill="#4a4a36"/><circle cx="135.2" cy="62.8" r="0.9" fill="#2b3226"/><circle cx="142.4" cy="64.0" r="1.1" fill="#585a40"/><circle cx="151.7" cy="42.4" r="1.3" fill="#47483a"/><circle cx="140.3" cy="83.0" r="1.4" fill="#56603a"/><circle cx="160.3" cy="44.7" r="1.3" fill="#2b3226"/><circle cx="115.1" cy="83.7" r="0.6" fill="#2e3424"/><circle cx="162.1" cy="79.1" r="1.5" fill="#2e3424"/><circle cx="153.7" cy="77.1" r="1.2" fill="#525a38"/><circle cx="136.0" cy="46.9" r="1.2" fill="#b8c4cc"/><circle cx="143.3" cy="30.8" r="1.1" fill="#4a4a36"/><circle cx="118.0" cy="87.1" r="1.2" fill="#5a6040"/><circle cx="164.6" cy="39.0" r="0.5" fill="#47483a"/><circle cx="141.5" cy="32.4" r="1.2" fill="#2f362a"/><circle cx="156.5" cy="80.7" r="0.9" fill="#4a5032"/><circle cx="143.8" cy="58.6" r="1.2" fill="#585a40"/><circle cx="139.9" cy="56.9" r="1.3" fill="#2b3226"/><circle cx="132.9" cy="87.8" r="1.3" fill="#4a5032"/><circle cx="132.7" cy="56.1" r="0.9" fill="#c8d0d6"/><circle cx="132.3" cy="60.7" r="1.2" fill="#585a40"/><circle cx="147.2" cy="75.0" r="1.2" fill="#4a5032"/><circle cx="149.1" cy="36.8" r="0.6" fill="#595a44"/><circle cx="152.5" cy="83.2" r="1.4" fill="#3c4230"/><circle cx="161.6" cy="75.2" r="1.3" fill="#60663f"/><circle cx="145.2" cy="52.5" r="0.7" fill="#3a3e2e"/><circle cx="147.3" cy="72.1" r="0.8" fill="#5a6040"/><circle cx="148.7" cy="26.5" r="0.6" fill="#2b3226"/><circle cx="114.0" cy="88.0" r="1.4" fill="#2e3424"/><circle cx="136.6" cy="88.1" r="1.3" fill="#525a38"/><circle cx="143.7" cy="42.8" r="1.0" fill="#2f362a"/><circle cx="145.8" cy="27.0" r="0.7" fill="#98a8b0"/><circle cx="143.7" cy="57.5" r="1.5" fill="#b8c4cc"/><circle cx="138.4" cy="72.7" r="1.1" fill="#3c4230"/><circle cx="152.7" cy="29.2" r="1.0" fill="#2b3226"/><circle cx="148.3" cy="43.7" r="0.7" fill="#c6d0d4"/><circle cx="158.6" cy="52.9" r="0.8" fill="#4a4a36"/><circle cx="141.3" cy="60.0" r="1.1" fill="#3d4230"/><circle cx="124.5" cy="87.2" r="1.1" fill="#60663f"/><circle cx="116.7" cy="80.8" r="1.2" fill="#34382a"/><circle cx="130.0" cy="75.9" r="1.3" fill="#60663f"/><circle cx="119.9" cy="93.0" r="0.9" fill="#5a6040"/><circle cx="146.9" cy="74.3" r="1.2" fill="#2e3424"/><circle cx="145.2" cy="76.2" r="0.8" fill="#5a6040"/><circle cx="131.3" cy="61.7" r="0.9" fill="#4a4a36"/><circle cx="161.2" cy="23.0" r="1.1" fill="#2b3226"/><circle cx="153.3" cy="49.2" r="1.1" fill="#585a40"/><circle cx="135.8" cy="49.9" r="1.3" fill="#3a3e2e"/><circle cx="136.7" cy="93.6" r="1.3" fill="#2e3424"/><circle cx="161.6" cy="43.8" r="0.8" fill="#47483a"/><circle cx="159.7" cy="43.1" r="0.7" fill="#2b3226"/><circle cx="143.9" cy="51.5" r="1.1" fill="#3a3e2e"/><circle cx="151.4" cy="41.9" r="1.2" fill="#595a44"/><circle cx="123.4" cy="82.3" r="1.1" fill="#3c4230"/><circle cx="148.2" cy="58.5" r="1.1" fill="#b8c4cc"/><circle cx="146.1" cy="89.5" r="1.5" fill="#4a5032"/><circle cx="150.2" cy="84.4" r="1.4" fill="#60663f"/><circle cx="133.2" cy="79.4" r="1.2" fill="#3c4230"/><circle cx="117.1" cy="85.2" r="0.6" fill="#56603a"/><circle cx="159.2" cy="80.2" r="0.7" fill="#2e3424"/><circle cx="148.1" cy="36.3" r="0.5" fill="#b4c0c8"/><circle cx="159.4" cy="42.1" r="0.6" fill="#2b3226"/><circle cx="152.7" cy="77.2" r="0.8" fill="#3c4230"/><circle cx="157.2" cy="70.9" r="0.8" fill="#525a38"/><circle cx="156.1" cy="45.6" r="0.6" fill="#585a40"/><circle cx="144.9" cy="71.3" r="1.1" fill="#3c4230"/><circle cx="123.0" cy="90.2" r="1.2" fill="#525a38"/><circle cx="126.8" cy="80.3" r="1.4" fill="#34382a"/><circle cx="149.2" cy="29.1" r="0.8" fill="#2b3226"/><circle cx="119.3" cy="83.6" r="1.2" fill="#4a5032"/><circle cx="153.5" cy="46.9" r="1.4" fill="#2b3226"/><circle cx="142.4" cy="36.2" r="1.2" fill="#b4c0c8"/><circle cx="160.4" cy="24.5" r="0.5" fill="#2b3226"/><circle cx="142.3" cy="59.3" r="1.3" fill="#3a3e2e"/><circle cx="151.6" cy="37.4" r="1.1" fill="#b4c0c8"/><circle cx="118.3" cy="86.3" r="1.4" fill="#56603a"/><circle cx="159.0" cy="23.5" r="0.9" fill="#3d4230"/><circle cx="145.5" cy="46.0" r="1.3" fill="#585a40"/><circle cx="138.4" cy="56.9" r="1.3" fill="#2b3226"/><circle cx="139.2" cy="63.5" r="0.7" fill="#4a4a36"/><circle cx="134.0" cy="69.1" r="1.3" fill="#34382a"/><circle cx="153.5" cy="36.7" r="0.9" fill="#2b3226"/><circle cx="156.9" cy="64.2" r="0.6" fill="#34382a"/><circle cx="142.8" cy="72.6" r="1.4" fill="#56603a"/><circle cx="133.9" cy="52.1" r="1.4" fill="#c8d0d6"/><circle cx="141.9" cy="73.2" r="0.6" fill="#5a6040"/><circle cx="133.4" cy="71.2" r="1.3" fill="#34382a"/><circle cx="137.4" cy="67.8" r="0.8" fill="#2b3226"/><circle cx="148.0" cy="81.3" r="0.7" fill="#56603a"/><circle cx="132.6" cy="46.3" r="1.2" fill="#b8c4cc"/><circle cx="162.6" cy="28.6" r="1.3" fill="#595a44"/><circle cx="151.0" cy="21.9" r="0.8" fill="#2f362a"/><circle cx="140.6" cy="54.4" r="1.5" fill="#3d4230"/><circle cx="147.4" cy="72.8" r="0.9" fill="#3c4230"/><circle cx="116.5" cy="83.2" r="1.0" fill="#2e3424"/><circle cx="161.3" cy="46.3" r="1.5" fill="#a8b4bc"/><circle cx="160.8" cy="35.4" r="0.8" fill="#4a4a36"/><circle cx="128.9" cy="71.1" r="1.0" fill="#5a6040"/><circle cx="131.6" cy="82.2" r="0.9" fill="#2e3424"/><circle cx="123.6" cy="78.5" r="1.0" fill="#5a6040"/><circle cx="132.0" cy="63.5" r="1.0" fill="#c8d0d6"/><circle cx="137.0" cy="66.0" r="1.4" fill="#4a4a36"/><circle cx="160.8" cy="72.6" r="0.7" fill="#34382a"/><circle cx="152.7" cy="29.3" r="1.1" fill="#2f362a"/><circle cx="114.6" cy="85.2" r="0.8" fill="#60663f"/><circle cx="158.3" cy="69.2" r="1.0" fill="#34382a"/><circle cx="133.3" cy="59.8" r="1.1" fill="#4a4a36"/><circle cx="140.1" cy="42.5" r="1.0" fill="#2b3226"/><circle cx="125.4" cy="72.5" r="0.7" fill="#2e3424"/><circle cx="138.4" cy="45.7" r="0.9" fill="#3d4230"/><circle cx="144.7" cy="61.4" r="1.2" fill="#c8d0d6"/><circle cx="113.7" cy="83.0" r="1.2" fill="#60663f"/><circle cx="162.5" cy="84.1" r="1.3" fill="#3c4230"/><circle cx="124.3" cy="79.0" r="1.0" fill="#4a5032"/><circle cx="128.1" cy="56.3" r="0.8" fill="#c8d0d6"/><circle cx="160.9" cy="34.1" r="0.8" fill="#4a4a36"/><circle cx="149.2" cy="58.0" r="1.4" fill="#a8b4bc"/><circle cx="154.2" cy="54.9" r="1.2" fill="#c8d0d6"/><circle cx="140.4" cy="71.5" r="1.4" fill="#525a38"/><circle cx="116.6" cy="87.2" r="0.8" fill="#2e3424"/><circle cx="130.7" cy="82.5" r="1.0" fill="#34382a"/><circle cx="159.0" cy="61.4" r="1.3" fill="#34382a"/><circle cx="158.8" cy="67.2" r="1.2" fill="#2e3424"/><circle cx="162.5" cy="46.2" r="1.3" fill="#b8c4cc"/><circle cx="144.5" cy="65.6" r="1.2" fill="#3a3e2e"/><circle cx="135.5" cy="52.7" r="0.6" fill="#3a3e2e"/><circle cx="163.7" cy="30.2" r="0.7" fill="#2f362a"/><circle cx="138.6" cy="88.5" r="0.6" fill="#2e3424"/><circle cx="140.1" cy="82.7" r="1.2" fill="#4a5032"/><circle cx="140.8" cy="81.3" r="0.8" fill="#60663f"/><circle cx="154.3" cy="34.6" r="1.0" fill="#98a8b0"/><circle cx="163.0" cy="80.8" r="0.9" fill="#5a6040"/><circle cx="147.9" cy="79.4" r="0.9" fill="#34382a"/><circle cx="125.7" cy="75.2" r="0.8" fill="#56603a"/><circle cx="148.8" cy="27.5" r="0.9" fill="#2b3226"/><circle cx="144.2" cy="50.0" r="0.6" fill="#585a40"/><circle cx="153.8" cy="48.4" r="0.9" fill="#c8d0d6"/><circle cx="147.6" cy="32.8" r="1.2" fill="#2f362a"/><circle cx="155.6" cy="61.6" r="1.2" fill="#2e3424"/><circle cx="126.1" cy="67.9" r="1.0" fill="#2b3226"/><circle cx="148.2" cy="78.3" r="0.8" fill="#5a6040"/><circle cx="146.6" cy="48.0" r="0.6" fill="#4a4a36"/><circle cx="149.2" cy="27.9" r="0.7" fill="#2b3226"/><circle cx="129.6" cy="59.4" r="1.0" fill="#3d4230"/><circle cx="159.8" cy="81.5" r="0.8" fill="#56603a"/><circle cx="157.8" cy="67.7" r="1.0" fill="#3c4230"/><circle cx="144.0" cy="76.4" r="1.2" fill="#2e3424"/><circle cx="157.7" cy="52.2" r="1.1" fill="#3d4230"/><circle cx="159.3" cy="85.0" r="0.7" fill="#2e3424"/><circle cx="141.1" cy="29.8" r="0.7" fill="#98a8b0"/><circle cx="159.1" cy="42.2" r="0.5" fill="#3d4230"/><circle cx="153.4" cy="93.4" r="1.0" fill="#2e3424"/><circle cx="132.8" cy="79.5" r="1.1" fill="#2e3424"/><circle cx="155.5" cy="37.9" r="1.3" fill="#2f362a"/><circle cx="157.6" cy="93.6" r="1.1" fill="#56603a"/><circle cx="161.7" cy="22.5" r="1.3" fill="#2b3226"/><circle cx="139.6" cy="69.6" r="0.9" fill="#34382a"/><circle cx="151.4" cy="42.3" r="0.9" fill="#47483a"/><circle cx="158.8" cy="23.8" r="0.5" fill="#c6d0d4"/><circle cx="139.0" cy="79.8" r="1.0" fill="#56603a"/><circle cx="154.2" cy="81.1" r="1.4" fill="#4a5032"/><circle cx="136.5" cy="82.0" r="0.8" fill="#2e3424"/><circle cx="141.7" cy="36.0" r="1.1" fill="#98a8b0"/><circle cx="137.8" cy="39.8" r="1.0" fill="#c6d0d4"/><circle cx="134.7" cy="42.4" r="1.2" fill="#3d4230"/><circle cx="128.4" cy="74.6" r="0.6" fill="#3c4230"/><circle cx="115.2" cy="90.3" r="0.6" fill="#3c4230"/><circle cx="142.4" cy="62.4" r="1.0" fill="#a8b4bc"/><circle cx="162.9" cy="35.5" r="1.1" fill="#98a8b0"/><circle cx="158.8" cy="79.9" r="1.2" fill="#4a5032"/><circle cx="162.1" cy="43.2" r="1.1" fill="#4a4a36"/><circle cx="150.2" cy="68.7" r="0.8" fill="#525a38"/><circle cx="143.9" cy="85.6" r="1.1" fill="#2e3424"/><circle cx="156.1" cy="70.7" r="1.0" fill="#56603a"/><circle cx="135.7" cy="81.7" r="0.9" fill="#3c4230"/><circle cx="160.6" cy="58.6" r="1.0" fill="#585a40"/><circle cx="142.6" cy="63.6" r="0.7" fill="#a8b4bc"/><circle cx="135.8" cy="93.5" r="0.8" fill="#60663f"/><circle cx="135.8" cy="60.4" r="1.4" fill="#2b3226"/><circle cx="117.0" cy="93.3" r="0.7" fill="#56603a"/><circle cx="120.3" cy="88.3" r="1.3" fill="#5a6040"/><circle cx="153.9" cy="57.4" r="0.7" fill="#c8d0d6"/><circle cx="157.9" cy="72.4" r="1.1" fill="#34382a"/><circle cx="136.9" cy="91.1" r="0.7" fill="#3c4230"/><circle cx="140.5" cy="78.0" r="1.4" fill="#56603a"/><circle cx="113.1" cy="84.2" r="1.3" fill="#4a5032"/><circle cx="129.0" cy="83.9" r="0.7" fill="#34382a"/><circle cx="156.7" cy="65.3" r="0.7" fill="#56603a"/><circle cx="164.3" cy="34.5" r="1.2" fill="#c6d0d4"/><circle cx="150.0" cy="33.8" r="0.8" fill="#98a8b0"/><circle cx="154.9" cy="71.5" r="1.2" fill="#34382a"/><circle cx="152.2" cy="31.9" r="0.9" fill="#595a44"/><circle cx="161.8" cy="64.8" r="0.9" fill="#60663f"/><circle cx="121.3" cy="72.8" r="1.3" fill="#34382a"/><circle cx="143.7" cy="39.9" r="0.9" fill="#4a4a36"/><circle cx="161.8" cy="45.0" r="0.8" fill="#3a3e2e"/><circle cx="141.9" cy="40.4" r="1.3" fill="#b4c0c8"/><circle cx="142.1" cy="68.4" r="0.9" fill="#34382a"/><circle cx="148.2" cy="69.4" r="0.6" fill="#3c4230"/><circle cx="130.6" cy="63.5" r="0.9" fill="#c8d0d6"/><circle cx="158.4" cy="76.7" r="1.1" fill="#4a5032"/><circle cx="115.5" cy="86.2" r="1.3" fill="#4a5032"/><circle cx="142.5" cy="71.3" r="1.2" fill="#525a38"/><circle cx="136.4" cy="67.9" r="1.5" fill="#2b3226"/><circle cx="163.7" cy="93.4" r="1.0" fill="#2e3424"/><circle cx="165.0" cy="68.2" r="1.1" fill="#3c4230"/><circle cx="142.1" cy="56.3" r="1.1" fill="#4a4a36"/><circle cx="115.3" cy="78.6" r="0.8" fill="#525a38"/><circle cx="145.7" cy="65.7" r="1.2" fill="#c8d0d6"/><circle cx="163.3" cy="54.5" r="1.0" fill="#3d4230"/><circle cx="130.1" cy="81.4" r="0.7" fill="#525a38"/><circle cx="132.7" cy="61.1" r="1.3" fill="#3d4230"/><circle cx="115.2" cy="93.9" r="0.7" fill="#4a5032"/><circle cx="138.0" cy="42.1" r="1.1" fill="#c6d0d4"/><circle cx="134.8" cy="60.9" r="0.7" fill="#585a40"/><circle cx="159.4" cy="79.7" r="0.7" fill="#5a6040"/><circle cx="141.0" cy="32.0" r="1.0" fill="#595a44"/><circle cx="157.5" cy="91.3" r="1.3" fill="#2e3424"/><circle cx="122.6" cy="78.8" r="1.3" fill="#4a5032"/><circle cx="149.2" cy="30.7" r="1.0" fill="#47483a"/><circle cx="132.3" cy="56.0" r="1.2" fill="#2b3226"/><circle cx="156.6" cy="22.5" r="0.7" fill="#98a8b0"/><circle cx="146.1" cy="50.4" r="0.8" fill="#585a40"/><circle cx="164.6" cy="61.0" r="1.1" fill="#5a6040"/><circle cx="137.6" cy="86.8" r="1.2" fill="#2e3424"/><circle cx="124.7" cy="64.0" r="0.9" fill="#b8c4cc"/><circle cx="133.6" cy="54.8" r="1.2" fill="#a8b4bc"/><circle cx="127.1" cy="58.8" r="1.1" fill="#4a4a36"/><circle cx="140.1" cy="49.0" r="1.2" fill="#b8c4cc"/><circle cx="129.8" cy="90.3" r="1.3" fill="#56603a"/><circle cx="130.5" cy="63.5" r="0.6" fill="#3d4230"/><circle cx="142.6" cy="91.1" r="1.5" fill="#60663f"/><circle cx="148.2" cy="82.0" r="1.1" fill="#3c4230"/><circle cx="142.4" cy="42.6" r="0.6" fill="#2b3226"/><circle cx="151.7" cy="44.9" r="0.8" fill="#3d4230"/><circle cx="142.4" cy="79.6" r="1.2" fill="#2e3424"/><circle cx="165.0" cy="55.8" r="1.2" fill="#3a3e2e"/><circle cx="140.4" cy="88.5" r="1.2" fill="#525a38"/><circle cx="147.6" cy="34.9" r="0.5" fill="#47483a"/><circle cx="150.5" cy="50.4" r="0.8" fill="#3d4230"/><circle cx="117.7" cy="75.8" r="1.3" fill="#2e3424"/><circle cx="134.5" cy="86.3" r="1.4" fill="#4a5032"/><circle cx="162.6" cy="45.7" r="1.2" fill="#2b3226"/><circle cx="148.7" cy="48.8" r="0.7" fill="#2b3226"/><circle cx="157.7" cy="26.3" r="0.9" fill="#c6d0d4"/><circle cx="156.2" cy="28.3" r="0.9" fill="#b4c0c8"/><circle cx="130.8" cy="69.6" r="1.0" fill="#56603a"/><circle cx="147.9" cy="48.1" r="0.7" fill="#585a40"/><circle cx="150.8" cy="31.5" r="0.8" fill="#595a44"/><circle cx="145.8" cy="47.3" r="1.2" fill="#2b3226"/><circle cx="134.9" cy="63.2" r="0.9" fill="#585a40"/><circle cx="142.1" cy="55.0" r="0.9" fill="#3a3e2e"/><circle cx="148.4" cy="36.5" r="0.8" fill="#b4c0c8"/><circle cx="160.7" cy="79.2" r="0.9" fill="#34382a"/><circle cx="149.4" cy="51.5" r="1.1" fill="#3d4230"/><circle cx="163.7" cy="87.2" r="0.9" fill="#56603a"/><circle cx="144.1" cy="70.0" r="0.6" fill="#5a6040"/><circle cx="148.4" cy="61.6" r="0.9" fill="#56603a"/><circle cx="118.3" cy="90.3" r="1.3" fill="#60663f"/><circle cx="115.4" cy="77.8" r="1.5" fill="#3c4230"/><circle cx="157.4" cy="74.3" r="0.7" fill="#60663f"/><circle cx="152.1" cy="62.7" r="1.2" fill="#60663f"/><circle cx="130.0" cy="90.3" r="1.1" fill="#34382a"/><circle cx="155.7" cy="92.6" r="0.8" fill="#4a5032"/><circle cx="136.7" cy="39.4" r="1.1" fill="#b4c0c8"/><circle cx="161.9" cy="30.4" r="0.6" fill="#98a8b0"/><circle cx="157.3" cy="83.1" r="1.1" fill="#4a5032"/><circle cx="150.4" cy="59.1" r="0.9" fill="#c8d0d6"/><circle cx="133.5" cy="77.5" r="1.0" fill="#3c4230"/><circle cx="147.7" cy="44.9" r="1.4" fill="#b8c4cc"/><circle cx="137.8" cy="61.5" r="1.4" fill="#a8b4bc"/><circle cx="141.6" cy="88.5" r="0.9" fill="#4a5032"/><circle cx="162.9" cy="33.6" r="0.7" fill="#c6d0d4"/><circle cx="158.0" cy="23.6" r="0.6" fill="#3d4230"/><circle cx="159.6" cy="92.1" r="1.0" fill="#4a5032"/><circle cx="147.4" cy="25.5" r="1.0" fill="#c6d0d4"/><circle cx="160.9" cy="85.0" r="1.0" fill="#4a5032"/><circle cx="136.8" cy="60.8" r="0.7" fill="#2b3226"/><circle cx="159.5" cy="38.2" r="1.1" fill="#2f362a"/><circle cx="161.6" cy="92.2" r="1.4" fill="#5a6040"/><circle cx="136.9" cy="63.3" r="1.4" fill="#a8b4bc"/><circle cx="116.1" cy="84.2" r="1.0" fill="#525a38"/><circle cx="143.3" cy="82.5" r="0.6" fill="#4a5032"/><circle cx="163.6" cy="81.5" r="0.9" fill="#2e3424"/><circle cx="159.4" cy="37.1" r="1.0" fill="#2b3226"/><circle cx="138.9" cy="44.2" r="1.0" fill="#a8b4bc"/><circle cx="122.9" cy="85.1" r="0.8" fill="#5a6040"/><circle cx="122.2" cy="87.9" r="0.8" fill="#5a6040"/><circle cx="146.0" cy="38.5" r="1.0" fill="#47483a"/><circle cx="138.0" cy="74.5" r="1.2" fill="#3c4230"/><circle cx="153.5" cy="59.5" r="1.2" fill="#3d4230"/><circle cx="137.7" cy="52.1" r="1.0" fill="#2b3226"/><circle cx="164.4" cy="46.8" r="0.7" fill="#a8b4bc"/><circle cx="114.0" cy="81.7" r="1.0" fill="#5a6040"/><circle cx="146.9" cy="36.4" r="0.8" fill="#2f362a"/><circle cx="125.8" cy="63.5" r="1.0" fill="#3d4230"/><circle cx="137.4" cy="47.5" r="1.0" fill="#3d4230"/><circle cx="154.2" cy="43.0" r="0.7" fill="#2b3226"/><circle cx="158.5" cy="73.5" r="0.9" fill="#56603a"/><circle cx="150.0" cy="88.3" r="1.4" fill="#5a6040"/><circle cx="139.7" cy="61.6" r="0.8" fill="#2b3226"/><circle cx="163.7" cy="89.1" r="0.7" fill="#5a6040"/><circle cx="128.2" cy="61.6" r="1.0" fill="#c8d0d6"/><circle cx="159.1" cy="63.8" r="1.1" fill="#60663f"/><circle cx="156.5" cy="53.9" r="0.7" fill="#b8c4cc"/><circle cx="135.8" cy="69.9" r="1.3" fill="#56603a"/><circle cx="150.5" cy="34.9" r="0.5" fill="#2b3226"/><circle cx="133.3" cy="91.1" r="1.0" fill="#4a5032"/><circle cx="124.3" cy="65.4" r="1.2" fill="#a8b4bc"/><circle cx="123.8" cy="74.7" r="0.9" fill="#5a6040"/><circle cx="158.6" cy="62.6" r="1.0" fill="#2e3424"/><circle cx="142.3" cy="38.2" r="0.7" fill="#2b3226"/><circle cx="161.5" cy="83.0" r="1.0" fill="#5a6040"/><circle cx="140.9" cy="88.0" r="1.4" fill="#5a6040"/><circle cx="127.2" cy="60.6" r="0.7" fill="#3a3e2e"/><circle cx="162.1" cy="40.3" r="1.0" fill="#3d4230"/><circle cx="154.0" cy="67.8" r="1.2" fill="#525a38"/><circle cx="132.0" cy="56.3" r="0.7" fill="#585a40"/><circle cx="127.6" cy="66.9" r="1.2" fill="#2b3226"/><circle cx="163.4" cy="40.0" r="0.5" fill="#2b3226"/><circle cx="142.1" cy="48.9" r="0.8" fill="#2b3226"/><circle cx="159.7" cy="56.8" r="0.9" fill="#3a3e2e"/><circle cx="157.3" cy="30.4" r="1.2" fill="#c6d0d4"/><circle cx="137.7" cy="44.7" r="1.2" fill="#b8c4cc"/><circle cx="147.9" cy="52.5" r="1.5" fill="#c8d0d6"/><circle cx="160.4" cy="70.4" r="1.3" fill="#34382a"/><circle cx="154.1" cy="32.2" r="0.7" fill="#2b3226"/><circle cx="123.4" cy="88.0" r="1.5" fill="#525a38"/><circle cx="146.2" cy="54.3" r="1.4" fill="#3a3e2e"/><circle cx="146.7" cy="27.2" r="1.2" fill="#b4c0c8"/><circle cx="148.2" cy="75.9" r="1.3" fill="#5a6040"/><circle cx="146.8" cy="51.7" r="1.3" fill="#3a3e2e"/><circle cx="153.2" cy="84.5" r="1.4" fill="#34382a"/><circle cx="145.2" cy="55.9" r="1.2" fill="#3a3e2e"/><circle cx="137.5" cy="92.4" r="1.2" fill="#3c4230"/><circle cx="152.6" cy="71.1" r="0.9" fill="#2e3424"/><circle cx="145.6" cy="70.5" r="0.9" fill="#4a5032"/><circle cx="161.0" cy="87.4" r="1.1" fill="#34382a"/><circle cx="141.9" cy="41.7" r="1.1" fill="#2b3226"/><circle cx="138.7" cy="55.6" r="0.7" fill="#2b3226"/><circle cx="151.6" cy="58.5" r="0.8" fill="#c8d0d6"/><circle cx="141.9" cy="37.1" r="0.8" fill="#c6d0d4"/><circle cx="128.7" cy="90.9" r="1.1" fill="#34382a"/><circle cx="162.2" cy="67.0" r="0.8" fill="#2e3424"/><circle cx="160.6" cy="78.2" r="0.7" fill="#4a5032"/><circle cx="133.8" cy="70.4" r="1.1" fill="#34382a"/><circle cx="164.3" cy="65.1" r="1.1" fill="#5a6040"/><circle cx="125.0" cy="73.0" r="0.8" fill="#60663f"/><circle cx="153.9" cy="22.1" r="0.9" fill="#2b3226"/><circle cx="136.1" cy="90.6" r="1.1" fill="#525a38"/><circle cx="143.8" cy="84.1" r="1.0" fill="#2e3424"/><circle cx="153.2" cy="37.4" r="1.0" fill="#2f362a"/><circle cx="149.1" cy="28.6" r="1.0" fill="#2b3226"/><circle cx="132.1" cy="47.7" r="1.3" fill="#3a3e2e"/><circle cx="144.0" cy="34.6" r="1.2" fill="#2f362a"/><circle cx="136.8" cy="63.1" r="1.4" fill="#a8b4bc"/><circle cx="145.1" cy="44.2" r="0.8" fill="#2b3226"/><circle cx="157.6" cy="57.2" r="1.3" fill="#3a3e2e"/><circle cx="157.8" cy="33.4" r="1.1" fill="#2b3226"/><circle cx="148.9" cy="52.6" r="1.2" fill="#a8b4bc"/><circle cx="158.0" cy="65.7" r="1.0" fill="#4a5032"/><circle cx="136.0" cy="85.0" r="1.2" fill="#56603a"/><circle cx="147.3" cy="56.8" r="1.4" fill="#3a3e2e"/><circle cx="122.6" cy="64.3" r="1.0" fill="#585a40"/><circle cx="145.9" cy="35.9" r="0.9" fill="#3d4230"/><circle cx="163.9" cy="44.6" r="0.6" fill="#3a3e2e"/><circle cx="132.9" cy="76.5" r="0.7" fill="#34382a"/><circle cx="130.9" cy="83.8" r="1.5" fill="#34382a"/><circle cx="120.8" cy="87.5" r="1.0" fill="#525a38"/><circle cx="163.8" cy="72.4" r="1.3" fill="#60663f"/><circle cx="141.8" cy="37.9" r="0.8" fill="#47483a"/><circle cx="151.4" cy="62.8" r="0.8" fill="#525a38"/><circle cx="141.2" cy="58.6" r="0.9" fill="#585a40"/><circle cx="160.7" cy="78.5" r="1.2" fill="#56603a"/><circle cx="125.9" cy="79.5" r="1.2" fill="#2e3424"/><circle cx="135.5" cy="60.8" r="1.1" fill="#585a40"/><circle cx="162.4" cy="45.4" r="0.7" fill="#2b3226"/><circle cx="126.5" cy="70.9" r="1.3" fill="#60663f"/><circle cx="129.7" cy="59.3" r="1.1" fill="#2b3226"/><circle cx="131.9" cy="49.3" r="1.2" fill="#c8d0d6"/><circle cx="155.9" cy="64.8" r="0.8" fill="#3c4230"/><circle cx="153.7" cy="74.4" r="0.6" fill="#34382a"/><circle cx="146.6" cy="40.8" r="0.7" fill="#c6d0d4"/><circle cx="148.7" cy="71.4" r="1.3" fill="#60663f"/><circle cx="159.7" cy="82.4" r="0.6" fill="#60663f"/><circle cx="160.5" cy="78.1" r="1.1" fill="#34382a"/><circle cx="164.3" cy="35.8" r="1.0" fill="#2f362a"/><circle cx="127.6" cy="67.6" r="1.3" fill="#a8b4bc"/><circle cx="158.8" cy="32.2" r="1.2" fill="#4a4a36"/><circle cx="147.2" cy="31.9" r="1.0" fill="#c6d0d4"/><circle cx="129.1" cy="76.7" r="1.4" fill="#60663f"/><circle cx="122.6" cy="72.9" r="1.4" fill="#525a38"/><circle cx="151.0" cy="76.5" r="0.7" fill="#525a38"/><circle cx="164.2" cy="64.0" r="0.7" fill="#2e3424"/><circle cx="148.3" cy="32.2" r="0.5" fill="#b4c0c8"/><path d="M112,94 Q110.5,81 116,76 Q123,72 129,76 Q133,80 132,94 Z" fill="#2a3424"/><circle cx="116.6" cy="87.2" r="0.7" fill="#24301f"/><circle cx="117.8" cy="77.3" r="0.9" fill="#34442c"/><circle cx="118.2" cy="81.4" r="0.9" fill="#34442c"/><circle cx="120.2" cy="83.2" r="0.8" fill="#34442c"/><circle cx="115.9" cy="89.7" r="1.1" fill="#3c4c30"/><circle cx="117.2" cy="85.2" r="1.4" fill="#3c4c30"/><circle cx="127.6" cy="83.7" r="1.3" fill="#34442c"/><circle cx="121.0" cy="82.9" r="1.1" fill="#24301f"/><circle cx="121.5" cy="85.6" r="1.5" fill="#34442c"/><circle cx="118.8" cy="81.4" r="1.0" fill="#3c4c30"/><circle cx="127.5" cy="86.3" r="0.9" fill="#34442c"/><circle cx="120.2" cy="90.8" r="1.1" fill="#24301f"/><circle cx="125.8" cy="88.2" r="1.1" fill="#24301f"/><circle cx="122.5" cy="80.4" r="1.2" fill="#3c4c30"/><circle cx="129.6" cy="89.5" r="0.8" fill="#34442c"/><circle cx="123.1" cy="82.0" r="1.0" fill="#3c4c30"/><circle cx="119.3" cy="89.9" r="1.1" fill="#34442c"/><circle cx="123.0" cy="78.7" r="1.4" fill="#24301f"/><circle cx="126.2" cy="88.3" r="1.1" fill="#24301f"/><circle cx="124.1" cy="85.2" r="0.7" fill="#3c4c30"/><circle cx="116.9" cy="84.0" r="1.4" fill="#3c4c30"/><circle cx="122.5" cy="91.0" r="1.2" fill="#24301f"/><circle cx="130.8" cy="90.8" r="1.2" fill="#34442c"/><circle cx="117.7" cy="86.9" r="0.9" fill="#34442c"/><circle cx="118.1" cy="81.7" r="0.8" fill="#3c4c30"/><circle cx="122.9" cy="91.6" r="0.8" fill="#34442c"/><circle cx="127.8" cy="87.9" r="1.3" fill="#34442c"/><circle cx="119.8" cy="87.9" r="1.3" fill="#34442c"/><circle cx="124.8" cy="88.1" r="1.4" fill="#3c4c30"/><circle cx="130.3" cy="81.8" r="0.9" fill="#3c4c30"/></g>
<!-- tower -->
<path d="M55.2,1.8 L54.9,6.6 L53.2,6.6 L53.2,13 L53.7,15.4 L52.6,31.4 L51.4,47.4 L50,55.7 L47.6,55.7 L47.6,62.1 L48.2,62.1 L43,73 L41.5,73 L41.5,80.7 L42,80.7 L36.1,94 L46,94 Q46,80 54.5,79.5 Q63,80 63,94  L69.8,94 L65.8,80.7 L66.2,80.7 L66.2,73 L64.8,73 L61.2,62.1 L61.7,62.1 L61.7,55.7 L59.6,55.7 L58.8,47.4 L58,31.4 L57.5,15.4 L58,13 L58,6.6 L56.9,6.6 L56.4,1.8 Z" fill="#4f3729"/>
<path d="M52.4,62.6 L58.3,62.6 L59,73 L51.6,73 Z" fill="#d2c8b4"/>
<path d="M46.6,94 Q47,80.7 54.5,80.3 Q62.3,80.7 62.4,94 Z" fill="#b8a68c"/>
<path d="M46.6,94 Q47,87 50,86 L60,86 Q62.3,87 62.4,94 Z" fill="#3e5432"/>
<g fill="#a07a5c" opacity="0.55">
<rect x="53.3" y="9" width="4.6" height="1"/>
<rect x="47.8" y="57" width="13.8" height="1.4"/><rect x="47.8" y="60" width="13.8" height="0.8"/>
<rect x="41.7" y="74.6" width="24.3" height="1.6"/><rect x="41.7" y="78" width="24.3" height="1"/>
<rect x="54.2" y="20" width="3" height="0.7"/><rect x="53.5" y="28" width="4.4" height="0.7"/><rect x="52.6" y="37" width="5.8" height="0.7"/><rect x="51.8" y="45" width="7" height="0.7"/><rect x="50.6" y="52" width="8.8" height="0.7"/>
<rect x="45" y="66" width="2.2" height="5"/><rect x="61.4" y="66" width="2.2" height="5"/>
<rect x="40" y="85" width="4" height="1"/><rect x="64" y="85" width="4" height="1"/>
</g>
<path d="M54.9,1.8 L56.7,1.8 L57,6.6 L54.6,6.6 Z" fill="#6f7f92"/>
</symbol>
</defs>
<g id="tvset">
<use href="#photo" x="41.8" y="552.7" width="165.2" height="94.3"/>
<rect x="42.4" y="553.3" width="164" height="93.1" fill="none" stroke="#2c2d2f" stroke-width="1.3"/>
<path d="M95.7,647 H97.2 V655 H151.8 V647 H153.3 V657.3 H95.7 Z" fill="#c4c4c4"/>
<rect x="95.7" y="655.2" width="57.6" height="2.1" fill="#a9a9a9"/>
<path d="M96,647 L99.2,647 L98.6,653.5 L97,655 Z" fill="#2e2e2e"/>
<path d="M150,647 L153.2,647 L152.8,655 L151,653.5 Z" fill="#2e2e2e"/>
</g>
<use href="#tvset" x="168"/>
<use href="#tvset" x="336.3"/>
<use href="#tvset" x="504.5"/>
</g>
</svg>
<svg width="750" height="750" viewBox="0 0 750 750">
<g id="lines" fill="none" stroke-width="2">
<path d="M107,179 V208 H370.5 V176" stroke="#62e2ec"/>
<path d="M430,179 V227 H151 V284" stroke="#d24ebc"/>
<path d="M490,179 V246 H300 V284" stroke="#d24ebc"/>
<path d="M554,179 V262 H456 V284" stroke="#d24ebc"/>
<path d="M618,179 V262.5 H601.5 V284" stroke="#d24ebc"/>
<path d="M134,439 V537" stroke="#62e2ec"/>
<path d="M295,439 V537" stroke="#62e2ec"/>
<path d="M456,439 V537" stroke="#62e2ec"/>
<path d="M618,439 V537" stroke="#62e2ec"/>
</g>
<g id="arrows">
<path d="M370.5,169.5 L375.5,178 L365.5,178 Z" fill="#4cecf0"/>
<path d="M151,292.2 L146.2,284 L155.8,284 Z" fill="#ec40c0"/>
<path d="M300,292.2 L295.2,284 L304.8,284 Z" fill="#ec40c0"/>
<path d="M456,292.2 L451.2,284 L460.8,284 Z" fill="#ec40c0"/>
<path d="M601.5,292.2 L596.7,284 L606.3,284 Z" fill="#ec40c0"/>
<path d="M134,545 L129.2,537 L138.8,537 Z" fill="#4cecf0"/>
<path d="M295,545 L290.2,537 L299.8,537 Z" fill="#4cecf0"/>
<path d="M456,545 L451.2,537 L460.8,537 Z" fill="#4cecf0"/>
<path d="M618,545 L613.2,537 L622.8,537 Z" fill="#4cecf0"/>
</g>
<g id="circles">
<circle cx="430" cy="179" r="8.4" fill="#f9c6ee" stroke="#d84cb0" stroke-width="1.4"/><circle cx="430" cy="179" r="6.4" fill="#ee3cc2"/>
<circle cx="490" cy="179" r="8.4" fill="#f9c6ee" stroke="#d84cb0" stroke-width="1.4"/><circle cx="490" cy="179" r="6.4" fill="#ee3cc2"/>
<circle cx="554" cy="179" r="8.4" fill="#f9c6ee" stroke="#d84cb0" stroke-width="1.4"/><circle cx="554" cy="179" r="6.4" fill="#ee3cc2"/>
<circle cx="618" cy="179" r="8.4" fill="#f9c6ee" stroke="#d84cb0" stroke-width="1.4"/><circle cx="618" cy="179" r="6.4" fill="#ee3cc2"/>
<circle cx="107" cy="179" r="8.4" fill="#c4f7f8" stroke="#7fe4ec" stroke-width="1.4"/><circle cx="107" cy="179" r="6.0" fill="#48eef0"/>
<circle cx="134" cy="439" r="8.4" fill="#c4f7f8" stroke="#7fe4ec" stroke-width="1.4"/><circle cx="134" cy="439" r="6.0" fill="#48eef0"/>
<circle cx="295" cy="439" r="8.4" fill="#c4f7f8" stroke="#7fe4ec" stroke-width="1.4"/><circle cx="295" cy="439" r="6.0" fill="#48eef0"/>
<circle cx="456" cy="439" r="8.4" fill="#c4f7f8" stroke="#7fe4ec" stroke-width="1.4"/><circle cx="456" cy="439" r="6.0" fill="#48eef0"/>
<circle cx="618" cy="439" r="8.4" fill="#c4f7f8" stroke="#7fe4ec" stroke-width="1.4"/><circle cx="618" cy="439" r="6.0" fill="#48eef0"/>
</g>
</svg>
<div class="txt" style="left:624px;top:212.5px;font-size:18.5px;line-height:22px;letter-spacing:0.45px;color:#fff;">CAT5E-45M<br>CAT6/7-50M</div>
<div class="txt" style="right:188.5px;top:689.8px;font-size:15.2px;color:#5ddde6;transform:scaleY(1.09);transform-origin:0 50%;">HDMI cable</div>
<div class="txt" style="right:189.5px;top:725.8px;font-size:15.2px;color:#5ddde6;transform:scaleY(1.09);transform-origin:0 50%;">Ethernet cable</div>
<div style="position:absolute;left:567px;top:696px;width:147px;height:4px;background:#4dd9e6;"></div>
<div style="position:absolute;left:567px;top:732px;width:147px;height:4px;background:#e03fae;"></div>
</body></html>
